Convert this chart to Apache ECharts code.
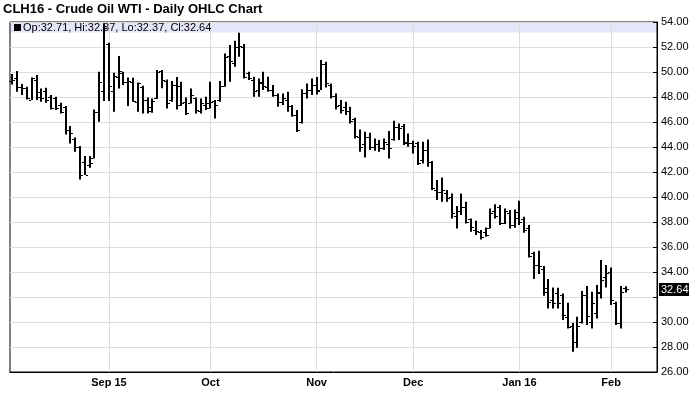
<!DOCTYPE html>
<html>
<head>
<meta charset="utf-8">
<script src="https://cdn.jsdelivr.net/npm/echarts@6/dist/echarts.min.js"></script>
<style>html,body{margin:0;padding:0;background:#fff}#c{width:700px;height:411px}</style>
</head>
<body>
<div id="c"></div>
<script>
const dates = [
"2015-08-04","2015-08-05","2015-08-06","2015-08-07","2015-08-10","2015-08-11","2015-08-12","2015-08-13","2015-08-14","2015-08-17",
"2015-08-18","2015-08-19","2015-08-20","2015-08-21","2015-08-24","2015-08-25","2015-08-26","2015-08-27","2015-08-28","2015-08-31",
"2015-09-01","2015-09-02","2015-09-03","2015-09-04","2015-09-08","2015-09-09","2015-09-10","2015-09-11","2015-09-14","2015-09-15",
"2015-09-16","2015-09-17","2015-09-18","2015-09-21","2015-09-22","2015-09-23","2015-09-24","2015-09-25","2015-09-28","2015-09-29","2015-09-30",
"2015-10-01","2015-10-02","2015-10-05","2015-10-06","2015-10-07","2015-10-08","2015-10-09","2015-10-12","2015-10-13","2015-10-14",
"2015-10-15","2015-10-16","2015-10-19","2015-10-20","2015-10-21","2015-10-22","2015-10-23","2015-10-26","2015-10-27","2015-10-28","2015-10-29","2015-10-30",
"2015-11-02","2015-11-03","2015-11-04","2015-11-05","2015-11-06","2015-11-09","2015-11-10","2015-11-11","2015-11-12","2015-11-13",
"2015-11-16","2015-11-17","2015-11-18","2015-11-19","2015-11-20","2015-11-23","2015-11-24","2015-11-25","2015-11-27","2015-11-30",
"2015-12-01","2015-12-02","2015-12-03","2015-12-04","2015-12-07","2015-12-08","2015-12-09","2015-12-10","2015-12-11","2015-12-14",
"2015-12-15","2015-12-16","2015-12-17","2015-12-18","2015-12-21","2015-12-22","2015-12-23","2015-12-24","2015-12-28","2015-12-29","2015-12-30","2015-12-31",
"2016-01-04","2016-01-05","2016-01-06","2016-01-07","2016-01-08","2016-01-11","2016-01-12","2016-01-13","2016-01-14","2016-01-15",
"2016-01-19","2016-01-20","2016-01-21","2016-01-22","2016-01-25","2016-01-26","2016-01-27","2016-01-28","2016-01-29",
"2016-02-01","2016-02-02","2016-02-03","2016-02-04",
"2016-02-05","2016-02-08","2016-02-09","2016-02-10","2016-02-11","2016-02-12"
];
const tickDates = ["2015-09-01","2015-10-01","2015-11-02","2015-12-01","2016-01-04","2016-02-01"];
const tickLabels = ["Sep 15","Oct","Nov","Dec","Jan 16","Feb"];
const yTicks = [26,28,30,32,34,36,38,40,42,44,46,48,50,52,54];

const opens = [
49.3,49.5,48.8,48.7,47.8,49.4,48.4,48.5,48.0,47.9,47.4,47.2,45.4,44.6,44.0,42.8,42.6,43.1,46.8,48.5,
52.2,48.5,49.6,49.9,49.2,49.2,47.6,48.8,47.8,46.9,47.9,50.1,49.3,47.8,49.0,48.9,47.6,47.5,47.9,46.9,47.4,
47.5,47.7,47.8,48.9,51.3,50.7,52.0,52.0,49.9,49.4,48.6,49.1,48.8,48.6,48.2,47.6,47.8,47.3,46.6,46.0,48.3,48.6,
49.0,48.6,50.6,49.0,48.1,47.4,47.2,46.9,46.2,44.8,44.2,44.8,44.0,44.2,43.9,44.2,44.6,45.6,45.7,44.4,
44.3,44.3,43.0,43.8,42.8,40.6,40.4,40.3,40.0,38.5,38.9,39.2,38.2,37.4,37.2,37.2,37.5,38.9,39.2,37.9,38.7,37.8,
38.8,38.2,37.5,35.5,34.6,34.2,32.4,31.8,32.3,32.2,30.4,29.7,28.4,30.0,32.2,30.0,30.7,32.3,33.6,
34.0,31.5,29.9,32.71];
const highs = [
49.84,50.08,49.04,48.83,49.57,49.76,48.69,48.75,48.16,48.03,47.55,47.28,45.68,44.77,44.08,43.28,43.28,47.0,50.03,53.9,
52.35,49.95,51.28,50.03,49.57,49.55,49.17,48.91,47.97,47.89,50.16,50.16,49.4,49.28,49.6,49.23,47.97,48.69,47.97,47.89,48.03,
49.23,47.76,49.28,51.49,52.16,52.51,53.15,52.24,50.03,49.63,49.49,50.03,49.63,48.96,48.29,48.29,48.43,47.36,46.96,48.63,49.09,49.49,
49.6,50.96,50.83,49.09,48.29,47.76,47.63,47.23,46.35,45.41,45.23,45.15,44.69,44.56,44.69,45.28,46.11,45.89,45.84,45.09,
44.51,44.43,44.43,44.61,42.88,41.36,41.57,40.56,40.29,39.28,40.29,39.63,38.29,38.11,37.36,37.57,39.09,39.43,39.36,39.09,38.96,39.01,
39.71,38.43,37.76,35.63,35.71,34.48,33.44,32.77,32.75,32.29,31.55,29.95,30.43,32.48,32.88,32.43,32.96,34.96,34.56,
34.37,31.63,32.88,32.87];
const lows = [
49.0,48.43,48.16,47.81,47.76,47.76,47.63,47.55,47.01,46.96,46.69,45.01,44.29,43.63,41.41,41.76,42.35,43.09,46.03,47.68,
47.68,46.83,48.69,48.96,47.28,47.63,46.83,46.69,46.69,46.75,47.84,48.7,47.09,47.63,47.0,47.28,46.56,47.49,46.69,46.69,46.96,
47.09,46.29,47.63,48.83,49.23,50.43,51.23,49.49,49.36,48.03,48.03,48.56,48.43,48.03,47.23,47.36,46.83,46.43,45.2,45.89,47.89,48.16,
48.2,48.56,48.77,47.89,47.01,46.69,46.56,45.89,44.69,43.63,43.17,43.76,43.71,43.63,43.76,43.09,44.51,44.56,44.16,44.03,
43.49,42.56,42.69,42.43,40.56,39.76,39.63,39.63,38.29,37.49,38.56,37.89,37.23,36.96,36.6,36.83,37.49,38.29,37.76,37.84,37.49,37.55,
37.76,37.15,35.17,33.44,33.84,32.11,31.09,31.09,31.09,30.16,29.49,27.63,27.95,29.89,29.76,29.49,30.29,31.89,32.77,
31.36,29.76,29.49,32.37];
const closes = [
49.4,48.8,48.75,47.9,49.5,48.0,47.9,47.8,47.1,47.1,46.8,45.4,45.1,44.0,41.8,41.8,42.7,46.8,49.2,53.5,
48.9,49.7,50.1,49.2,49.3,47.7,49.1,47.8,47.2,47.7,50.0,49.4,47.5,49.0,47.4,47.5,46.7,48.2,47.0,47.5,47.1,
47.6,47.4,48.9,51.2,50.9,52.0,52.1,49.6,49.5,48.5,49.2,48.9,48.6,48.2,47.6,47.9,47.3,46.6,45.4,48.3,48.6,49.0,
48.5,50.6,49.1,48.1,47.3,47.0,46.9,46.1,44.9,44.0,44.8,44.0,44.2,43.9,44.4,43.9,45.6,45.5,44.3,44.3,
44.1,42.7,43.8,42.8,40.7,40.4,40.6,39.9,38.7,38.9,39.2,38.0,37.6,37.3,36.8,37.0,38.7,38.5,37.9,38.9,37.8,38.3,
38.0,37.4,35.3,34.6,34.5,32.7,31.6,31.5,31.5,30.6,29.6,28.4,29.7,32.2,30.5,31.5,32.4,33.4,33.9,
31.8,29.9,32.4,32.64];
const last = opens.length - 1;
const lastClose = closes[last];

const ohlc = opens.map((o, i) => [i, o, highs[i], lows[i], closes[i]]);

const FONT = 'Liberation Sans, Arial, sans-serif';
const chart = echarts.init(document.getElementById('c'), null, {renderer: 'canvas'});
const isTick = (idx, val) => tickDates.indexOf(val) >= 0;

chart.setOption({
  animation: false,
  backgroundColor: '#fff',
  title: {
    text: 'CLH16 - Crude Oil WTI - Daily OHLC Chart',
    left: 3, top: 2, padding: 0,
    textStyle: {fontFamily: FONT, fontSize: 13, fontWeight: 'bold', color: '#000', lineHeight: 14}
  },
  grid: {left: 10, right: 43, top: 22, bottom: 39, show: true, borderColor: '#000', borderWidth: 1, backgroundColor: 'transparent'},
  graphic: [
    {type: 'rect', z: -10, shape: {x: 10.5, y: 22.5, width: 646.5, height: 10}, style: {fill: '#e6e6fa'}},
    {type: 'rect', z: 100, shape: {x: 14, y: 24, width: 7, height: 7}, style: {fill: '#000'}},
    {type: 'text', z: 100, x: 23, y: 28, style: {text: 'Op:' + opens[last].toFixed(2) + ', Hi:' + highs[last].toFixed(2) + ', Lo:' + lows[last].toFixed(2) + ', Cl:' + closes[last].toFixed(2), fill: '#000', font: '11px ' + FONT, textVerticalAlign: 'middle'}}
  ],
  xAxis: {
    type: 'category',
    data: dates,
    boundaryGap: true,
    axisLine: {show: true, lineStyle: {color: '#000', width: 1}},
    axisTick: {show: false},
    axisLabel: {
      interval: isTick,
      margin: 5,
      fontFamily: FONT,
      fontSize: 11, fontWeight: 'bold', color: '#000',
      formatter: (v) => { const k = tickDates.indexOf(v); return k >= 0 ? tickLabels[k] : ''; }
    },
    splitLine: {show: true, interval: isTick, alignWithLabel: true, lineStyle: {color: '#dcdcdc', width: 1}}
  },
  yAxis: {
    type: 'value',
    position: 'right',
    min: yTicks[0], max: yTicks[yTicks.length - 1], interval: 2,
    axisLine: {show: true, lineStyle: {color: '#000', width: 1}},
    axisTick: {show: true, inside: true, length: 4, lineStyle: {color: '#000'}},
    axisLabel: {
      margin: 4,
      fontFamily: FONT, fontSize: 11, color: '#000',
      formatter: (v) => (v === 32 ? '' : v.toFixed(2))
    },
    splitLine: {show: true, lineStyle: {color: '#dcdcdc', width: 1}}
  },
  series: [{
    type: 'custom',
    data: ohlc,
    encode: {x: 0, y: [1, 2, 3, 4]},
    clip: false,
    z: 5,
    renderItem: function (params, api) {
      const idx = api.value(0);
      const o = api.coord([idx, api.value(1)]);
      const h = api.coord([idx, api.value(2)]);
      const l = api.coord([idx, api.value(3)]);
      const c = api.coord([idx, api.value(4)]);
      const px = Math.round(h[0]);
      return {
        type: 'group',
        children: [
          {type: 'rect', shape: {x: px - 1, y: h[1], width: 2, height: Math.max(1, l[1] - h[1])}, style: {fill: '#000'}},
          {type: 'rect', shape: {x: px - 3, y: Math.round(o[1]), width: 2, height: 1}, style: {fill: '#000'}},
          {type: 'rect', shape: {x: px + 1, y: Math.round(c[1]), width: 2, height: 1}, style: {fill: '#000'}}
        ]
      };
    }
  }]
});

// current price tag on the right axis, positioned through the y-axis scale
const yPix = chart.convertToPixel({yAxisIndex: 0}, lastClose);
chart.setOption({
  graphic: [
    {type: 'rect', id: 'tagbg', z: 100, shape: {x: 659, y: Math.round(yPix) - 6, width: 30, height: 13}, style: {fill: '#000'}},
    {type: 'text', id: 'tagtx', z: 101, x: 661, y: Math.round(yPix) + 0.5, style: {text: lastClose.toFixed(2), fill: '#fff', font: '11px ' + FONT, textVerticalAlign: 'middle'}}
  ]
});
</script>
</body>
</html>
